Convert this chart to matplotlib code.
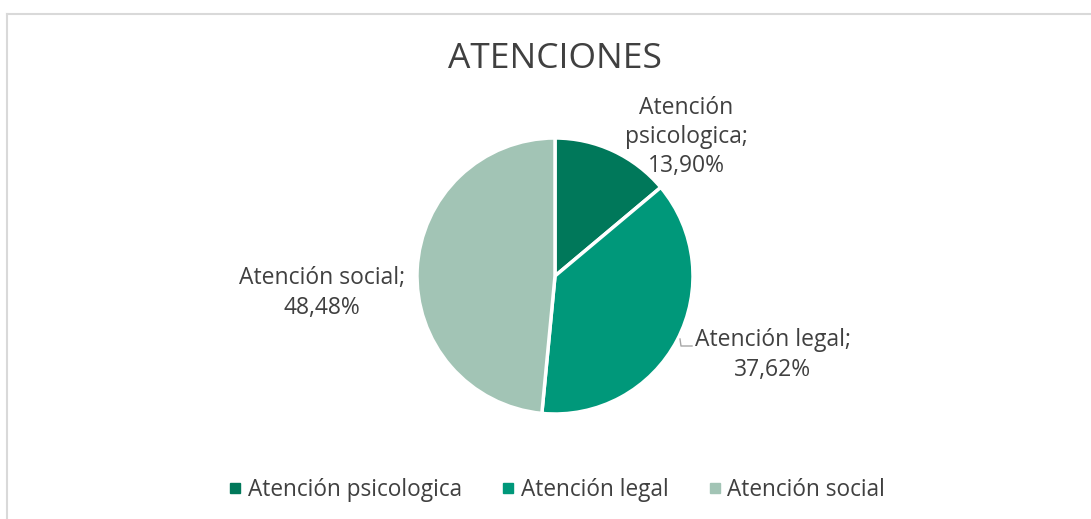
import matplotlib.pyplot as plt
from matplotlib.lines import Line2D

categorias = ['Atención psicologica', 'Atención legal', 'Atención social']
porcentajes = [13.90, 37.62, 48.48]
colores = ['#00785A', '#00987A', '#A2C4B5']

plt.rcParams['font.family'] = ['Open Sans', 'DejaVu Sans']
texto = '#404040'

W, H = 1091, 519
fig = plt.figure(figsize=(W / 100, H / 100), dpi=100)

# chart frame (cropped at right and bottom)
fig.add_artist(Line2D([7 / W, 7 / W], [0, 1 - 14 / H], color='#d9d9d9', lw=1.5))
fig.add_artist(Line2D([7 / W, 1], [1 - 14 / H, 1 - 14 / H], color='#d9d9d9', lw=1.5))

cx, cy, r = 555, 276, 138
ax = fig.add_axes([(cx - r) / W, 1 - (cy + r) / H, 2 * r / W, 2 * r / H])
wedges, _ = ax.pie(porcentajes, colors=colores, startangle=90, counterclock=False,
                   wedgeprops=dict(edgecolor='white', linewidth=2.5))
ax.set_xlim(-1, 1)
ax.set_ylim(-1, 1)
ax.set_aspect('equal')


def fmt(v):
    return f'{v:.2f}'.replace('.', ',') + '%'


def px(x, y):
    return (x - cx) / r, (cy - y) / r


etiquetas = [
    ('Atención\npsicologica;\n' + fmt(porcentajes[0]), px(686, 137)),
    ('Atención legal;\n' + fmt(porcentajes[1]), px(773, 355)),
    ('Atención social;\n' + fmt(porcentajes[2]), px(322, 293)),
]
for txt, (x, y) in etiquetas:
    ax.text(x, y, txt, ha='center', va='center', fontsize=16.5, color=texto,
            linespacing=1.3, clip_on=False)

# leader line for the legal label
lx, ly = zip(px(680, 339), px(681, 346), px(692, 346))
ax.plot(lx, ly, color='#a6a6a6', lw=1, clip_on=False)

fig.text(cx / W, 1 - 59 / H, 'ATENCIONES', ha='center', va='center',
         fontsize=25.5, color=texto)

handles = [Line2D([], [], marker='s', linestyle='none', markersize=7,
                  markerfacecolor=c, markeredgecolor=c) for c in colores]
fig.legend(handles, categorias, loc='center', bbox_to_anchor=(cx / W, 1 - 490 / H),
           ncol=3, frameon=False, fontsize=16.3, labelcolor=texto,
           handletextpad=0.1, columnspacing=1.6, handlelength=0.9)

fig.savefig('out.png', dpi=100, facecolor='white')
